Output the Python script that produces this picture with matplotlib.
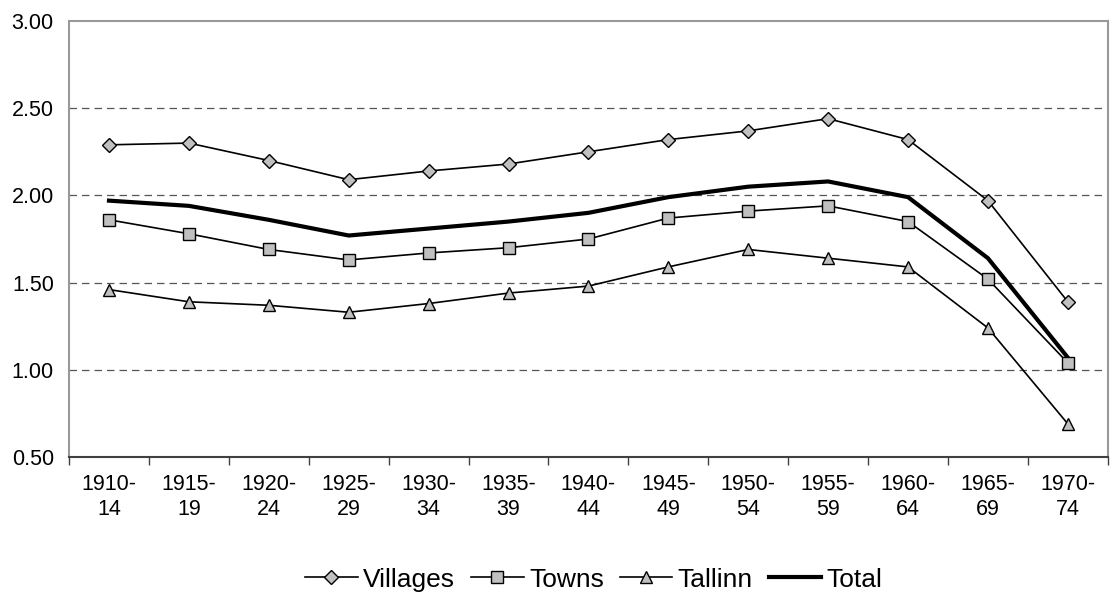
import matplotlib.pyplot as plt
import numpy as np

plt.rcParams['font.family'] = ['Liberation Sans', 'DejaVu Sans']

periods = ["1910-\n14", "1915-\n19", "1920-\n24", "1925-\n29", "1930-\n34", "1935-\n39",
           "1940-\n44", "1945-\n49", "1950-\n54", "1955-\n59", "1960-\n64", "1965-\n69", "1970-\n74"]
villages = [2.29, 2.30, 2.20, 2.09, 2.14, 2.18, 2.25, 2.32, 2.37, 2.44, 2.32, 1.97, 1.39]
towns = [1.86, 1.78, 1.69, 1.63, 1.67, 1.70, 1.75, 1.87, 1.91, 1.94, 1.85, 1.52, 1.04]
tallinn = [1.46, 1.39, 1.37, 1.33, 1.38, 1.44, 1.48, 1.59, 1.69, 1.64, 1.59, 1.24, 0.69]
total = [1.97, 1.94, 1.86, 1.77, 1.81, 1.85, 1.90, 1.99, 2.05, 2.08, 1.99, 1.64, 1.07]

x = np.arange(len(periods))

fig = plt.figure(figsize=(11.1, 6.05), dpi=100)
ax = fig.add_axes([0.0622, 0.2446, 0.9358, 0.7207])

mk = dict(color='black', lw=1.2, markerfacecolor='#C0C0C0', markeredgecolor='black',
          markeredgewidth=1.0, zorder=3)
ax.plot(x, villages, marker='D', markersize=7, label='Villages', **mk)
ax.plot(x, towns, marker='s', markersize=8, label='Towns', **mk)
ax.plot(x, tallinn, marker='^', markersize=9, label='Tallinn', **mk)
ax.plot(x, total, color='black', lw=3, label='Total', zorder=2)

ax.set_xlim(-0.5, len(periods) - 0.5)
ax.set_ylim(0.5, 3.0)
ax.set_yticks([0.5, 1.0, 1.5, 2.0, 2.5, 3.0])
ax.set_yticklabels(['%.2f' % v for v in [0.5, 1.0, 1.5, 2.0, 2.5, 3.0]])
ax.set_xticks(x)
ax.set_xticklabels(periods, linespacing=1.25)
ax.set_xticks(np.arange(len(periods) + 1) - 0.5, minor=True)
ax.tick_params(axis='x', which='major', length=0, labelsize=15.5, pad=12)
ax.tick_params(axis='x', which='minor', length=6, width=1, color='#404040', direction='out')
ax.tick_params(axis='y', length=0, labelsize=15.5, pad=11)

for v in [1.0, 1.5, 2.0, 2.5]:
    ax.axhline(v, color='#555555', lw=0.9, ls=(0, (6, 4)), zorder=1)

for s in ['left', 'top', 'right']:
    ax.spines[s].set_color('#999999')
    ax.spines[s].set_linewidth(1.5)
ax.spines['bottom'].set_color('#404040')
ax.spines['bottom'].set_linewidth(1.5)

leg = fig.legend(loc='center', bbox_to_anchor=(0.535, 0.042), ncol=4, frameon=False,
                 fontsize=19, handlelength=2.0, handletextpad=0.2, columnspacing=0.6)

fig.savefig('out.png', dpi=100)
